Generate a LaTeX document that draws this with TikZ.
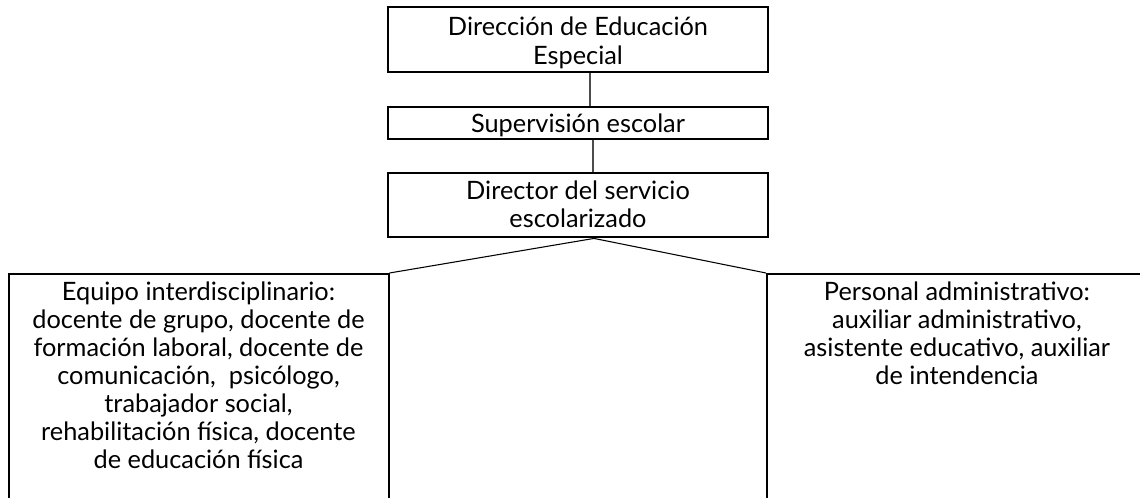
\documentclass[tikz,border=0pt]{standalone}
\usepackage{fontspec}
\setmainfont{Lato}
\usetikzlibrary{positioning}

\begin{document}
\begin{tikzpicture}[x=0.75pt, y=-0.75pt]
  \tikzstyle{orgbox} = [rectangle, draw=black, line width=1.5pt, minimum width=285pt, inner sep=0pt, align=center, font=\fontsize{19}{21.1}\selectfont]
  \tikzstyle{staffbox} = [orgbox, anchor=north]
  \tikzstyle{connector} = [draw=black!70, line width=0.8pt]
  \tikzstyle{branch} = [draw=black, line width=0.8pt]

  \clip (0,0) rectangle (1140,497);

  % Chain of command
  \node (direccion) at (578,39.5) [orgbox, minimum height=48.75pt] {\rule{0pt}{20.75pt}Dirección de Educación\\Especial\rule[-5pt]{0pt}{0pt}};
  \node (supervision) at (578,123) [orgbox, minimum height=24pt] {\rule{0pt}{18.5pt}Supervisión escolar\rule[-5pt]{0pt}{0pt}};
  \node (director) at (578,205.25) [orgbox, minimum height=48.25pt] {\rule{0pt}{17.75pt}Director del servicio\\escolarizado\rule[-5pt]{0pt}{0pt}};

  % Staff of the service
  \node (equipo) at (198.5,273) [staffbox, text depth=90pt] {\rule{0pt}{19.5pt}Equipo interdisciplinario:\\docente de grupo, docente de\\formación laboral, docente de\\comunicación,~ psicólogo,\\trabajador social,\\rehabilitación física, docente\\de educación física};
  \node (personal) at (957,273) [staffbox, text depth=170pt] {\rule{0pt}{19.5pt}Personal administrativo:\\auxiliar administrativo,\\asistente educativo, auxiliar\\de intendencia};

  % Lines
  \draw[connector] ([xshift=9pt]direccion.south) -- ([xshift=9pt]supervision.north);
  \draw[connector] ([xshift=11.25pt]supervision.south) -- ([xshift=11.25pt]director.north);
  \draw[branch] ([xshift=12pt]director.south) -- (equipo.north east);
  \draw[branch] ([xshift=12pt]director.south) -- (personal.north west);
\end{tikzpicture}
\end{document}
